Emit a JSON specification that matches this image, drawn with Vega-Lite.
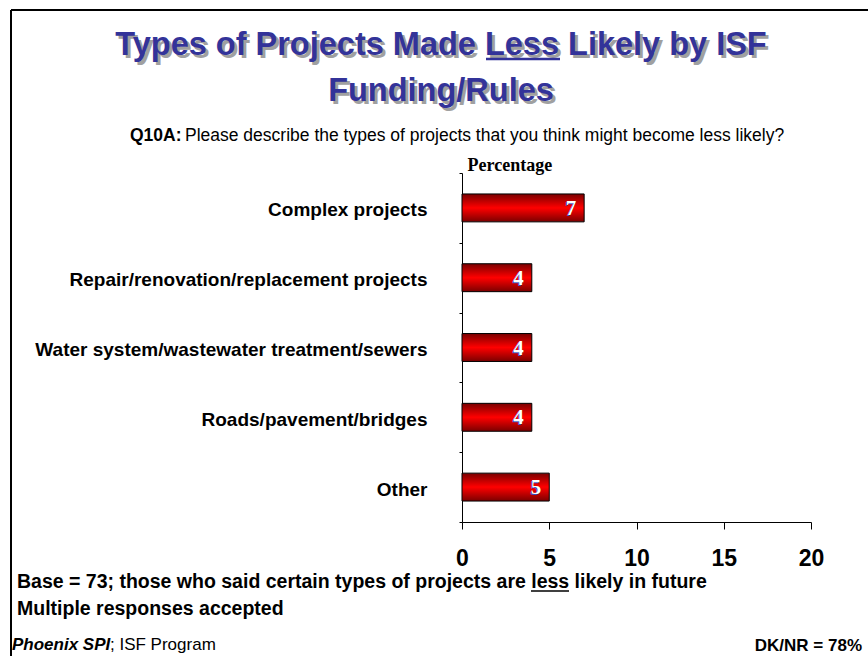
{
  "$schema": "https://vega.github.io/schema/vega-lite/v6.json",
  "width": 349,
  "height": 349,
  "autosize": "none",
  "padding": {"left": 462, "top": 173, "right": 57, "bottom": 134},
  "background": "white",
  "config": {"view": {"stroke": null}, "font": "Liberation Sans"},
  "datasets": {
    "bars": [
      {"category": "Complex projects", "value": 7},
      {"category": "Repair/renovation/replacement projects", "value": 4},
      {"category": "Water system/wastewater treatment/sewers", "value": 4},
      {"category": "Roads/pavement/bridges", "value": 4},
      {"category": "Other", "value": 5}
    ],
    "one": [{}]
  },
  "layer": [
    {
      "data": {"name": "bars"},
      "mark": {"type": "bar", "height": {"band": 0.4}, "stroke": "black", "strokeWidth": 1,
        "color": {"gradient": "linear", "x1": 0, "y1": 0, "x2": 0, "y2": 1,
          "stops": [{"offset": 0, "color": "#7a0000"}, {"offset": 0.5, "color": "#ff0000"}, {"offset": 1, "color": "#7a0000"}]}},
      "encoding": {
        "y": {"field": "category", "type": "nominal", "sort": null,
          "scale": {"paddingInner": 0, "paddingOuter": 0},
          "axis": {"title": "Percentage", "titleAngle": 0, "titleX": 5, "titleY": -3, "titleAlign": "left", "titleBaseline": "alphabetic",
            "titleFont": "Liberation Serif", "titleFontSize": 18, "titleFontWeight": "bold", "titleColor": "black",
            "labelFont": "Liberation Sans", "labelFontSize": 19, "labelFontWeight": "bold", "labelColor": "black",
            "labelPadding": 32, "labelOffset": 2, "labelLimit": 500, "tickBand": "extent", "tickSize": 3, "tickColor": "black",
            "domainColor": "black", "domainWidth": 1, "grid": false}},
        "x": {"field": "value", "type": "quantitative", "scale": {"domain": [0, 20], "nice": false},
          "axis": {"title": null, "values": [0, 5, 10, 15, 20], "tickSize": 7, "tickColor": "black", "domainColor": "black",
            "labelFont": "Liberation Sans", "labelFontSize": 23, "labelFontWeight": "bold", "labelColor": "black",
            "labelPadding": 18, "grid": false, "labelFlush": false}}
      }
    },
    {
      "data": {"name": "bars"},
      "mark": {"type": "text", "align": "right", "baseline": "middle", "dx": -9, "dy": 2, "font": "Liberation Serif", "fontSize": 21, "fontWeight": "bold", "fill": "#3050c0"},
      "encoding": {"y": {"field": "category", "type": "nominal", "sort": null}, "x": {"field": "value", "type": "quantitative"}, "text": {"field": "value"}}
    },
    {
      "data": {"name": "bars"},
      "mark": {"type": "text", "align": "right", "baseline": "middle", "dx": -8, "dy": 1, "font": "Liberation Serif", "fontSize": 21, "fontWeight": "bold", "fill": "white"},
      "encoding": {"y": {"field": "category", "type": "nominal", "sort": null}, "x": {"field": "value", "type": "quantitative"}, "text": {"field": "value"}}
    },
    {
      "data": {"name": "one"},
      "mark": {"type": "text", "text": "Types of Projects Made Less Likely by ISF", "align": "center", "baseline": "alphabetic", "fontSize": 32.5, "fontWeight": "bold", "fill": "#a0a0a0", "dx": 3, "dy": 3},
      "encoding": {"x": {"value": -21}, "y": {"value": -118}}
    },
    {
      "data": {"name": "one"},
      "mark": {"type": "text", "text": "Funding/Rules", "align": "center", "baseline": "alphabetic", "fontSize": 32.5, "fontWeight": "bold", "fill": "#a0a0a0", "dx": 3, "dy": 3},
      "encoding": {"x": {"value": -21}, "y": {"value": -72}}
    },
    {
      "data": {"name": "one"},
      "mark": {"type": "text", "text": "Types of Projects Made Less Likely by ISF", "align": "center", "baseline": "alphabetic", "fontSize": 32.5, "fontWeight": "bold", "fill": "#333399"},
      "encoding": {"x": {"value": -21}, "y": {"value": -118}}
    },
    {
      "data": {"name": "one"},
      "mark": {"type": "text", "text": "Funding/Rules", "align": "center", "baseline": "alphabetic", "fontSize": 32.5, "fontWeight": "bold", "fill": "#333399"},
      "encoding": {"x": {"value": -21}, "y": {"value": -72}}
    },
    {
      "data": {"name": "one"},
      "mark": {"type": "rule", "stroke": "#333399", "strokeWidth": 2.5},
      "encoding": {"x": {"value": 24}, "x2": {"value": 98}, "y": {"value": -114}, "y2": {"value": -114}}
    },
    {
      "data": {"name": "one"},
      "mark": {"type": "text", "text": "Q10A:", "align": "left", "baseline": "alphabetic", "fontSize": 17.5, "fontWeight": "bold", "fill": "black"},
      "encoding": {"x": {"value": -332}, "y": {"value": -32}}
    },
    {
      "data": {"name": "one"},
      "mark": {"type": "text", "text": "Please describe the types of projects that you think might become less likely?", "align": "left", "baseline": "alphabetic", "fontSize": 17.5, "fill": "black"},
      "encoding": {"x": {"value": -277}, "y": {"value": -32}}
    },
    {
      "data": {"name": "one"},
      "mark": {"type": "text", "text": "Base = 73; those who said certain types of projects are less likely in future", "align": "left", "baseline": "alphabetic", "fontSize": 19.5, "fontWeight": "bold", "fill": "black"},
      "encoding": {"x": {"value": -445}, "y": {"value": 415}}
    },
    {
      "data": {"name": "one"},
      "mark": {"type": "rule", "stroke": "black", "strokeWidth": 1.5},
      "encoding": {"x": {"value": 69}, "x2": {"value": 107}, "y": {"value": 418}, "y2": {"value": 418}}
    },
    {
      "data": {"name": "one"},
      "mark": {"type": "text", "text": "Multiple responses accepted", "align": "left", "baseline": "alphabetic", "fontSize": 19.5, "fontWeight": "bold", "fill": "black"},
      "encoding": {"x": {"value": -445}, "y": {"value": 442}}
    },
    {
      "data": {"name": "one"},
      "mark": {"type": "text", "text": "Phoenix SPI", "align": "left", "baseline": "alphabetic", "fontSize": 17, "fontWeight": "bold", "fontStyle": "italic", "fill": "black"},
      "encoding": {"x": {"value": -450}, "y": {"value": 477}}
    },
    {
      "data": {"name": "one"},
      "mark": {"type": "text", "text": "; ISF Program", "align": "left", "baseline": "alphabetic", "fontSize": 17, "fill": "black"},
      "encoding": {"x": {"value": -352}, "y": {"value": 477}}
    },
    {
      "data": {"name": "one"},
      "mark": {"type": "text", "text": "DK/NR = 78%", "align": "right", "baseline": "alphabetic", "fontSize": 17, "fontWeight": "bold", "fill": "black"},
      "encoding": {"x": {"value": 400}, "y": {"value": 478}}
    },
    {
      "data": {"name": "one"},
      "mark": {"type": "rule", "stroke": "black", "strokeWidth": 2},
      "encoding": {"x": {"value": -451}, "x2": {"value": 406}, "y": {"value": -163}, "y2": {"value": -163}}
    },
    {
      "data": {"name": "one"},
      "mark": {"type": "rule", "stroke": "black", "strokeWidth": 2},
      "encoding": {"x": {"value": -451}, "x2": {"value": -451}, "y": {"value": -163}, "y2": {"value": 483}}
    }
  ]
}
